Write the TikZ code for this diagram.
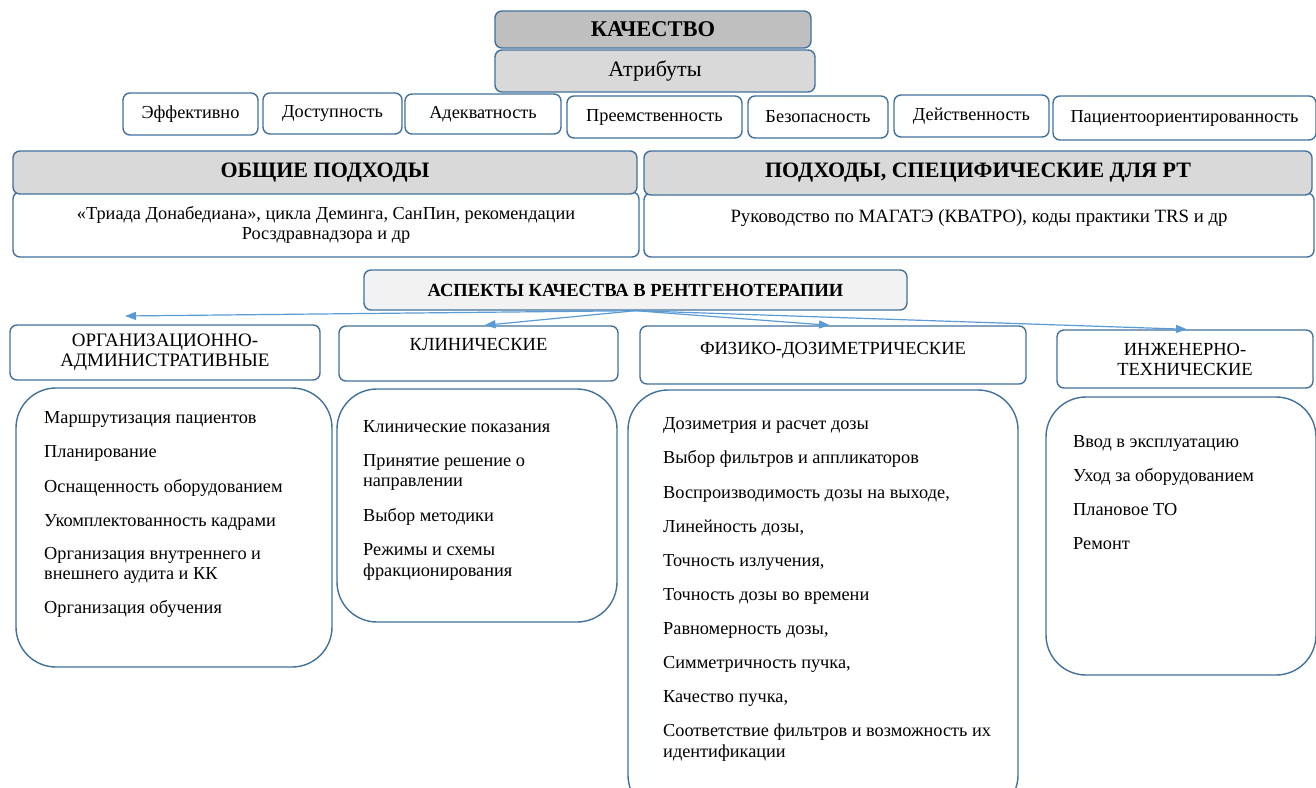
\documentclass[tikz,border=0pt]{standalone}
\usepackage{fontspec}
\setmainfont{Liberation Serif}
\usetikzlibrary{arrows.meta}
\definecolor{bord}{RGB}{65,113,156}
\definecolor{arr}{RGB}{91,155,213}
\definecolor{gdark}{RGB}{191,191,191}
\definecolor{glight}{RGB}{217,217,217}
\definecolor{gpale}{RGB}{242,242,242}

% rounded box given by its corners: [style]{name}{x1}{y1}{x2}{y2}{text}
\newcommand{\rbox}[7][]{%
  \node[box,#1,minimum width={(#5)-(#3)},minimum height={(#6)-(#4)}]
    (#2) at ({((#3)+(#5))/2},{((#4)+(#6))/2}) {#7};}

\begin{document}
\begin{tikzpicture}[x=1pt,y=-1pt,
  box/.style={draw=bord,line width=1.4pt,rounded corners=7pt,fill=white,
    inner sep=0pt,align=center,font=\fontsize{18.3}{20}\selectfont},
  head/.style={fill=glight,font=\bfseries\fontsize{22}{24}\selectfont},
  aspect/.style={font=\fontsize{18.5}{20}\selectfont},
  listbox/.style={rounded corners=40pt},
  item/.style={anchor=base west,inner sep=0pt,font=\fontsize{18.3}{20}\selectfont},
  link/.style={draw=arr,line width=1.2pt,-{Triangle[length=11pt,width=8pt]}}]

\clip (0,0) rectangle (1316,787);
\fill[white] (0,0) rectangle (1316,787);

% quality and its attributes
\rbox[head,fill=gdark,font=\bfseries\fontsize{22.5}{24}\selectfont]{quality}{495}{11}{811}{48}{КАЧЕСТВО}
\rbox[fill=glight,font=\fontsize{22}{24}\selectfont]{attrs}{495}{50}{815}{92}{Атрибуты}

\rbox{a1}{123}{93}{258}{135}{Эффективно}
\rbox{a2}{263}{93}{402}{134}{Доступность}
\rbox{a3}{405}{94}{561}{134}{Адекватность}
\rbox{a4}{567}{96}{742}{138}{Преемственность}
\rbox{a5}{748}{96}{888}{138}{Безопасность}
\rbox{a6}{894}{95}{1049}{137}{Действенность}
\rbox{a7}{1053}{96}{1316}{140}{Пациентоориентированность}

% approaches
\rbox[font=\fontsize{18.3}{20}\selectfont]{genbody}{13}{192}{639}{257}{«Триада Донабедиана», цикла Деминга, СанПин, рекомендации\\Росздравнадзора и др}
\rbox[head]{gen}{13}{151}{637}{194}{ОБЩИЕ ПОДХОДЫ}
\rbox[font=\fontsize{18.8}{20}\selectfont]{rtbody}{644}{193}{1314}{257}{Руководство по МАГАТЭ (КВАТРО), коды практики TRS и др\\[-2pt]\mbox{}}
\rbox[head]{rt}{644}{151}{1312}{195}{ПОДХОДЫ, СПЕЦИФИЧЕСКИЕ ДЛЯ РТ}

% aspects
\rbox[fill=gpale,font=\bfseries\fontsize{18.5}{20}\selectfont]{aspects}{364}{270}{907}{310}{АСПЕКТЫ КАЧЕСТВА В РЕНТГЕНОТЕРАПИИ}

\rbox[aspect,font=\fontsize{19}{20}\selectfont]{orgh}{10}{325}{320}{380}{ОРГАНИЗАЦИОННО-\\АДМИНИСТРАТИВНЫЕ}
\rbox[aspect]{clinh}{339}{326}{618}{381}{КЛИНИЧЕСКИЕ\\[-2pt]\mbox{}}
\rbox[aspect]{physh}{640}{326}{1026}{384}{ФИЗИКО-ДОЗИМЕТРИЧЕСКИЕ\\[-6pt]\mbox{}}
\rbox[aspect]{engh}{1057}{330}{1313}{388}{ИНЖЕНЕРНО-\\ТЕХНИЧЕСКИЕ}

\rbox[listbox]{orgl}{16}{388}{332}{667}{}
\rbox[listbox]{clinl}{337}{389}{617}{622}{}
\rbox[listbox]{physl}{628}{390}{1018}{815}{}
\rbox[listbox]{engl}{1046}{397}{1316}{675}{}

% connectors from the aspects box
\coordinate (src) at (aspects.south);
\coordinate (orgin) at (125,316);
\draw[link] (src) -- (orgin);
\draw[link] (src) -- ([xshift=6pt]clinh.north);
\draw[link] (src) -- ([xshift=-3pt]physh.north);
\draw[link] (src) -- ([xshift=2pt]engh.north);

% item lists
\foreach \y/\t [count=\i] in {418/{Маршрутизация пациентов},452/{Планирование},
  487/{Оснащенность оборудованием},521/{Укомплектованность кадрами},
  554/{Организация внутреннего и},574/{внешнего аудита и КК},608/{Организация обучения}}
  \node[item] (org\i) at (44,\y+5) {\t};

\foreach \y/\t [count=\i] in {427/{Клинические показания},461/{Принятие решение о},
  481/{направлении},516/{Выбор методики},550/{Режимы и схемы},571/{фракционирования}}
  \node[item] (clin\i) at (363,\y+5) {\t};

\foreach \y/\t [count=\i] in {424/{Дозиметрия и расчет дозы},458/{Выбор фильтров и аппликаторов},
  493/{Воспроизводимость дозы на выходе,},527/{Линейность дозы,},561/{Точность излучения,},
  595/{Точность дозы во времени},629/{Равномерность дозы,},663/{Симметричность пучка,},
  697/{Качество пучка,},731/{Соответствие фильтров и возможность их},752/{идентификации}}
  \node[item] (phys\i) at (663,\y+5) {\t};

\foreach \y/\t [count=\i] in {442/{Ввод в эксплуатацию},476/{Уход за оборудованием},
  510/{Плановое ТО},544/{Ремонт}}
  \node[item] (eng\i) at (1073,\y+5) {\t};

\end{tikzpicture}
\end{document}
